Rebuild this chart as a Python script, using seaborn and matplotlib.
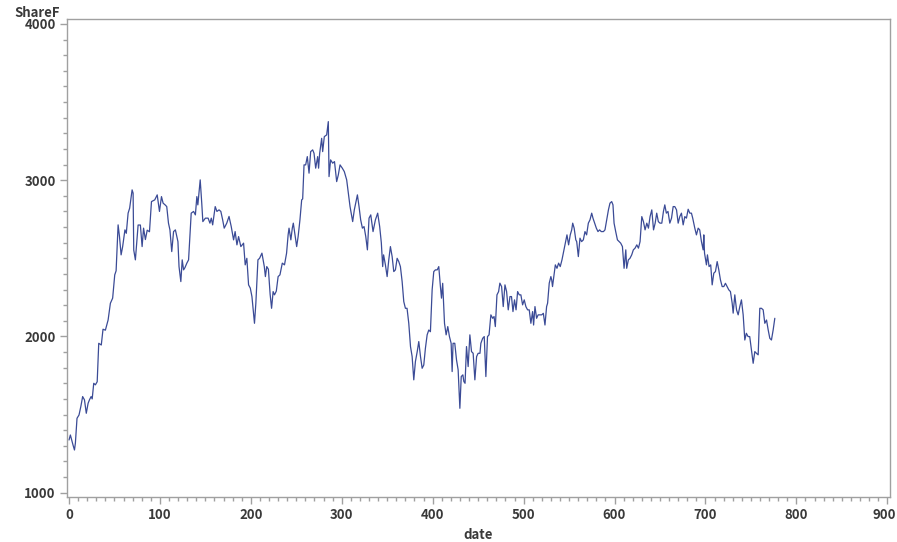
import matplotlib
matplotlib.use("Agg")
import matplotlib.pyplot as plt
import matplotlib.transforms as mtransforms
from matplotlib.ticker import MultipleLocator
import seaborn as sns
import pandas as pd

date = [0, 1.5, 4.4, 6, 7, 8.8, 11, 13, 15, 17, 19, 21, 22.5, 24.3, 25.5, 27.2, 29, 31, 32.7, 35.5,
        37.4, 40, 43, 45.5, 48, 50.3, 51.8, 54, 55.5, 57.3, 59, 61.5, 63, 65, 66.7, 69.4, 70.5, 71.2, 73, 76,
        78.5, 80.4, 82, 84, 86, 88.5, 90.7, 94.3, 97, 99.5, 101.7, 103.5, 105.7, 107.5, 109.4, 111, 113, 115, 117, 119.8,
        121, 123, 124.5, 126, 127.5, 129.6, 131.5, 134.4, 137, 139, 140.6, 141.7, 144.3, 146, 147.2, 150, 153, 155, 156.5, 158,
        160.8, 162.7, 165, 167, 169, 170.7, 173.5, 176, 178.4, 181, 182.7, 184.7, 186.5, 189, 192, 193.8, 195.6, 197.5, 199.4, 201.2,
        204, 205.5, 207.8, 209.6, 212.2, 214.8, 216, 217.5, 219.3, 221.2, 222.8, 224.5, 226, 228, 230, 232, 234.6, 237, 239.3, 241,
        242, 244, 245.6, 246.7, 248.5, 250.4, 252, 254, 255.9, 257, 258.5, 260.3, 262.1, 264, 265.8, 268, 269.5, 271.3, 273.5, 274.5,
        275.7, 277.9, 279, 280.8, 283.4, 285.2, 286, 287.7, 290, 292, 294.4, 296.2, 298.1, 300.6, 302.8, 305.4, 307.3, 309.1, 311, 312,
        313.8, 315.3, 317.2, 319, 320.8, 322.7, 324.5, 326.4, 328.2, 330, 331.9, 334.4, 337, 339.5, 341.7, 343.5, 345, 346, 348, 349.9,
        351.7, 353.5, 355.4, 357.2, 359, 360.9, 362.7, 364.5, 366.4, 368.2, 370, 371.8, 373.7, 375.6, 377.4, 379.2, 381, 383, 384.7, 386.6,
        388.4, 390.2, 392, 393.9, 395.7, 397.5, 399.4, 401.2, 403, 405, 406.7, 408.5, 409.7, 411, 413, 414.8, 416.6, 418.4, 420.3, 421.4,
        422.4, 424.3, 426.2, 428, 429.9, 431.4, 433.2, 434.3, 435.6, 437.2, 439, 440.9, 442.7, 444.5, 446.4, 448.3, 450, 452, 453, 455,
        456.7, 458.5, 460.3, 462, 464, 466, 467.5, 468.9, 470.7, 472.5, 473.9, 475.8, 477.6, 479.5, 481.3, 483.1, 485, 486.7, 488.3, 490,
        491.7, 493.4, 495.2, 497, 498.9, 500.7, 502.5, 504.4, 506.2, 508, 509.9, 511, 512.5, 514.3, 516, 518, 519.9, 521.7, 523.5, 525.3,
        526.4, 528.2, 530, 530.9, 531.8, 534.9, 536.7, 538.5, 540.3, 542.2, 544, 545.9, 547.7, 549.5, 551.3, 552.9, 554, 555.6, 557.4, 558.4,
        560.2, 562, 563.8, 565.7, 567.5, 569.3, 571.2, 573, 574.9, 576.3, 578.2, 580, 581.8, 583.6, 585.4, 587.8, 589.5, 591.4, 593.3, 595,
        596.9, 598.3, 599.5, 601.3, 603.2, 605, 606.8, 608.7, 610.5, 612.4, 613.4, 615.2, 617, 618.9, 620.7, 622.6, 624.5, 626.3, 628.1, 630,
        631.8, 633.6, 635.5, 637.3, 639.1, 641, 642.9, 644.7, 646.4, 648.2, 650, 652, 653.8, 655.3, 657, 658.8, 660.8, 662.7, 664.5, 666.3,
        668.2, 670, 671.8, 673.6, 675.5, 677.3, 679.1, 681, 682.8, 684.6, 686, 688.3, 690.1, 692, 693.7, 695.6, 697.5, 698.2, 699, 701.1,
        702.2, 704, 705.8, 707.4, 709.2, 711, 712.9, 714.7, 716.5, 718.4, 720.2, 722, 723.9, 725.7, 727.5, 729.4, 730.5, 732.3, 734.2, 736,
        737.8, 739.6, 741.5, 743.3, 745, 746.9, 748.7, 750.6, 752.5, 754.3, 756.1, 758, 759.8, 761.6, 763.5, 765.3, 767.2, 769, 770.8, 772.6,
        774.5, 776.3]

share_f = [1337, 1369, 1305, 1273, 1316, 1476, 1497, 1551, 1615, 1594, 1508, 1572, 1594, 1615, 1600, 1700, 1690, 1710, 1956, 1945,
           2046, 2040, 2105, 2212, 2245, 2394, 2420, 2714, 2640, 2522, 2575, 2682, 2660, 2789, 2821, 2938, 2917, 2553, 2490, 2713,
           2713, 2575, 2693, 2620, 2680, 2670, 2863, 2874, 2906, 2800, 2895, 2853, 2842, 2831, 2725, 2682, 2543, 2671, 2682, 2607,
           2447, 2351, 2490, 2426, 2440, 2469, 2490, 2789, 2800, 2778, 2895, 2842, 3002, 2853, 2735, 2757, 2757, 2725, 2757, 2714,
           2831, 2800, 2810, 2800, 2746, 2693, 2725, 2768, 2704, 2618, 2671, 2586, 2639, 2575, 2597, 2458, 2500, 2330, 2309, 2255,
           2084, 2212, 2490, 2500, 2533, 2447, 2383, 2447, 2430, 2270, 2180, 2287, 2266, 2290, 2383, 2394, 2469, 2458, 2533, 2650,
           2693, 2618, 2693, 2725, 2650, 2575, 2639, 2746, 2874, 2880, 3098, 3098, 3151, 3045, 3183, 3194, 3172, 3077, 3151, 3077,
           3172, 3268, 3183, 3279, 3290, 3375, 3023, 3130, 3109, 3119, 2991, 3034, 3098, 3077, 3055, 3002, 2917, 2831, 2767, 2735,
           2810, 2853, 2906, 2831, 2746, 2693, 2703, 2639, 2554, 2757, 2778, 2671, 2746, 2789, 2703, 2600, 2447, 2522, 2458, 2383,
           2490, 2575, 2511, 2415, 2426, 2500, 2479, 2447, 2351, 2223, 2180, 2180, 2084, 1935, 1871, 1722, 1839, 1903, 1967, 1871,
           1796, 1817, 1924, 2010, 2041, 2030, 2298, 2415, 2426, 2426, 2447, 2319, 2245, 2340, 2084, 2010, 2063, 2000, 1956, 1775,
           1956, 1956, 1850, 1786, 1540, 1743, 1754, 1711, 1700, 1935, 1807, 2010, 1903, 1892, 1722, 1871, 1892, 1892, 1956, 1988,
           1999, 1743, 1999, 2010, 2138, 2116, 2127, 2063, 2266, 2287, 2341, 2319, 2191, 2330, 2287, 2170, 2255, 2255, 2159, 2234,
           2170, 2287, 2266, 2266, 2202, 2234, 2191, 2170, 2170, 2084, 2159, 2073, 2191, 2116, 2138, 2138, 2138, 2148, 2073, 2191,
           2213, 2341, 2383, 2362, 2319, 2458, 2436, 2469, 2447, 2490, 2543, 2597, 2650, 2586, 2650, 2682, 2725, 2693, 2618, 2607,
           2511, 2629, 2607, 2618, 2671, 2650, 2725, 2746, 2789, 2757, 2725, 2693, 2671, 2682, 2671, 2671, 2682, 2746, 2810, 2853,
           2863, 2842, 2725, 2671, 2618, 2607, 2597, 2575, 2436, 2554, 2436, 2490, 2500, 2522, 2554, 2565, 2586, 2565, 2607, 2767,
           2735, 2682, 2725, 2693, 2767, 2810, 2682, 2725, 2789, 2735, 2725, 2725, 2800, 2842, 2789, 2800, 2725, 2757, 2831, 2831,
           2810, 2725, 2767, 2789, 2714, 2767, 2757, 2814, 2789, 2789, 2757, 2693, 2650, 2693, 2682, 2607, 2554, 2650, 2533, 2458,
           2522, 2447, 2458, 2330, 2405, 2415, 2479, 2426, 2362, 2319, 2319, 2340, 2319, 2298, 2287, 2213, 2149, 2266, 2170, 2138,
           2191, 2234, 2138, 1977, 2020, 1999, 1999, 1914, 1828, 1903, 1892, 1882, 2180, 2180, 2170, 2084, 2105, 2042, 1988, 1977,
           2042, 2116]

x_ticks = [0, 100, 200, 300, 400, 500, 600, 700, 800, 900]
y_ticks = [1000, 2000, 3000, 4000]

df = pd.DataFrame({"date": date, "ShareF": share_f})

sns.set_style("ticks")
plt.rcParams['font.family'] = ['Noto Sans CJK JP', 'DejaVu Sans']

fig = plt.figure(figsize=(8.97, 5.42), dpi=100)
ax = fig.add_axes([0.0744, 0.083, 0.9178, 0.882])

sns.lineplot(data=df, x="date", y="ShareF", ax=ax, color="#3b4b96", linewidth=0.9)

frame = "#a0a0a0"
for s in ax.spines.values():
    s.set_visible(True)
    s.set_color(frame)
    s.set_linewidth(1.0)

txt = "#3a3a3a"
fs = 9.5
ax.set_xlim(-2.5, 903)
ax.set_ylim(972, 4032)
ax.set_xticks(x_ticks)
ax.set_yticks(y_ticks)
ax.xaxis.set_minor_locator(MultipleLocator(10))
ax.yaxis.set_minor_locator(MultipleLocator(100))
ax.tick_params(which="major", direction="out", length=5, width=1, color=frame,
               labelsize=fs, labelcolor=txt, pad=3)
ax.tick_params(which="minor", direction="out", length=3, width=1, color=frame)
ax.tick_params(axis="x", which="both", top=False)
ax.tick_params(axis="y", which="both", right=False)
for lab in ax.get_xticklabels() + ax.get_yticklabels():
    lab.set_fontweight("bold")

# nudge the last x tick label a little left so it stays inside the figure
last = ax.get_xticklabels()[-1]
last.set_transform(last.get_transform() +
                   mtransforms.ScaledTranslation(-3 / 100, 0, fig.dpi_scale_trans))

ax.set_xlabel("date", fontsize=fs, color=txt, fontweight="bold", labelpad=4)
ax.set_ylabel("")
fig.text(14 / 897, 1 - 13 / 542, "ShareF", fontsize=fs, color=txt, fontweight="bold",
         ha="left", va="center")

fig.savefig("out.png", dpi=100, facecolor="white")
